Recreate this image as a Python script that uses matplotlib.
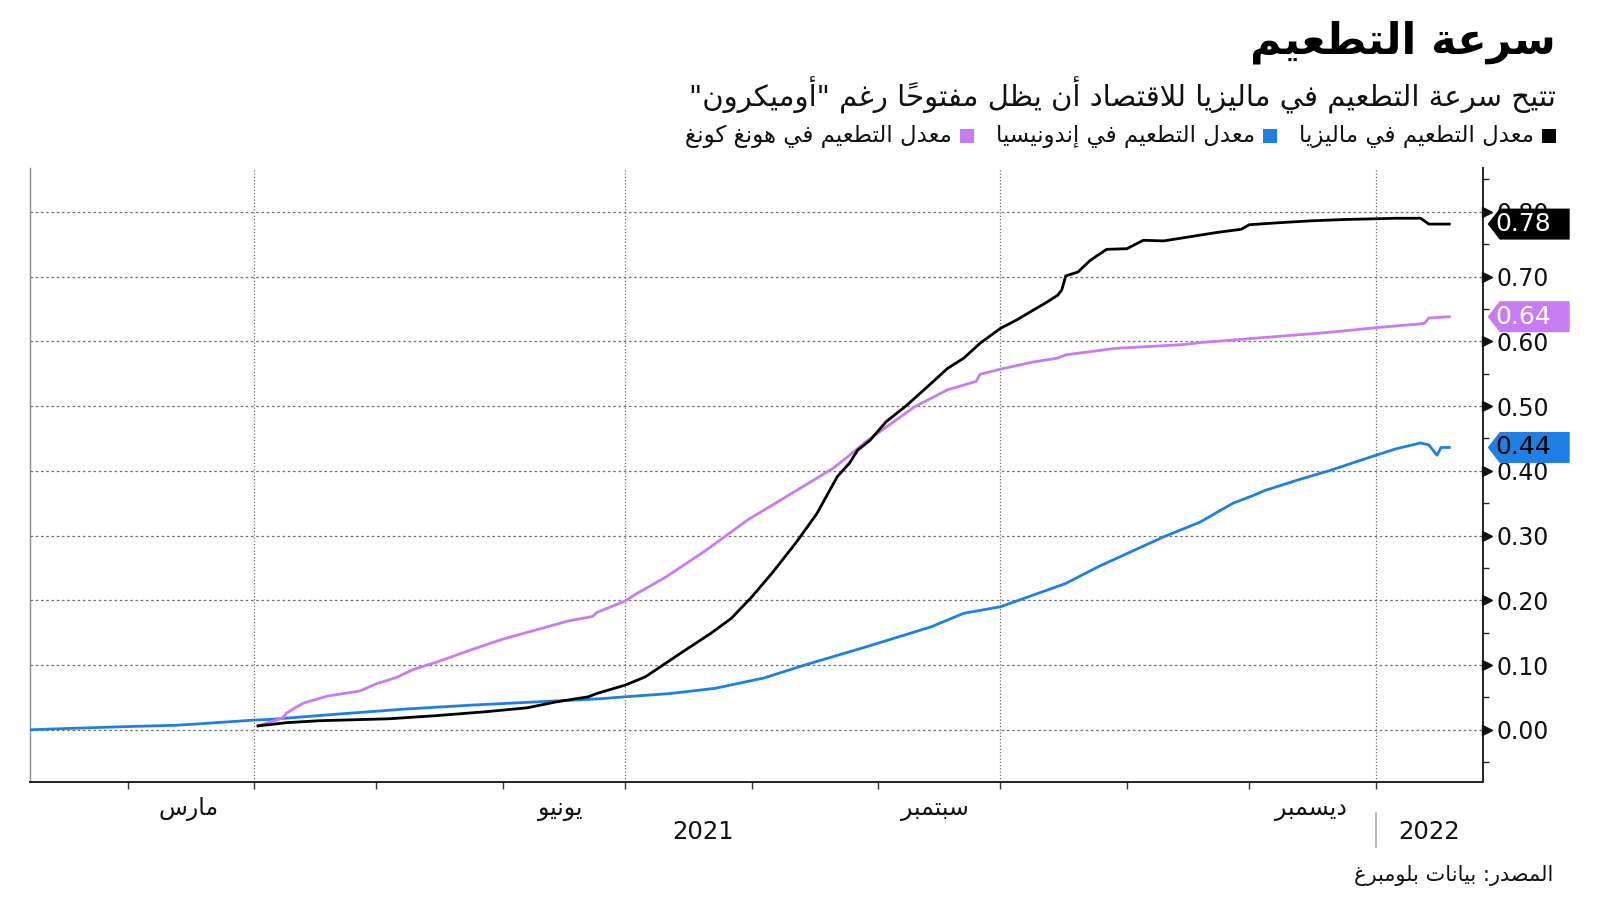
import matplotlib
matplotlib.use("Agg")
import matplotlib.pyplot as plt
import matplotlib.dates as mdates
import matplotlib.transforms as mtransforms
from matplotlib.patches import Polygon, Rectangle
import numpy as np
import pandas as pd

# ---------------------------------------------------------------- data
mal_dates = ["2021-04-02", "2021-04-09", "2021-04-17", "2021-05-04", "2021-05-16", "2021-05-28",
             "2021-06-07", "2021-06-14", "2021-06-22", "2021-06-24", "2021-07-01", "2021-07-06",
             "2021-07-15", "2021-07-22", "2021-07-27", "2021-08-01", "2021-08-06", "2021-08-12",
             "2021-08-17", "2021-08-22", "2021-08-25", "2021-08-27", "2021-08-30", "2021-09-03",
             "2021-09-08", "2021-09-14", "2021-09-18", "2021-09-22", "2021-09-26", "2021-10-01",
             "2021-10-05", "2021-10-09", "2021-10-12", "2021-10-15", "2021-10-16", "2021-10-17",
             "2021-10-20", "2021-10-23", "2021-10-27", "2021-11-01", "2021-11-05", "2021-11-10",
             "2021-11-15", "2021-11-23", "2021-11-29", "2021-12-01", "2021-12-08", "2021-12-16",
             "2021-12-24", "2022-01-06", "2022-01-12", "2022-01-14", "2022-01-19"]
mal_vals = [0.006, 0.011, 0.014, 0.017, 0.022, 0.028,
            0.034, 0.043, 0.051, 0.056, 0.069, 0.082,
            0.120, 0.149, 0.172, 0.205, 0.242, 0.290,
            0.334, 0.391, 0.412, 0.432, 0.447, 0.476,
            0.501, 0.535, 0.558, 0.574, 0.597, 0.620,
            0.633, 0.648, 0.659, 0.671, 0.679, 0.701,
            0.707, 0.725, 0.742, 0.743, 0.756, 0.755,
            0.760, 0.768, 0.773, 0.780, 0.783, 0.786,
            0.788, 0.790, 0.790, 0.781, 0.781]

hk_dates = ["2021-04-02", "2021-04-08", "2021-04-09", "2021-04-13", "2021-04-19", "2021-04-27",
            "2021-05-01", "2021-05-06", "2021-05-10", "2021-05-16", "2021-05-24", "2021-06-01",
            "2021-06-09", "2021-06-17", "2021-06-23", "2021-06-24", "2021-07-01", "2021-07-04",
            "2021-07-11", "2021-07-21", "2021-07-31", "2021-08-10", "2021-08-21", "2021-08-25",
            "2021-08-29", "2021-09-02", "2021-09-06", "2021-09-10", "2021-09-14", "2021-09-18",
            "2021-09-25", "2021-09-26", "2021-10-01", "2021-10-09", "2021-10-15", "2021-10-17",
            "2021-10-29", "2021-11-15", "2021-11-19", "2021-12-01", "2021-12-05", "2021-12-21",
            "2022-01-01", "2022-01-12", "2022-01-13", "2022-01-14", "2022-01-19"]
hk_vals = [0.006, 0.018, 0.026, 0.041, 0.052, 0.060,
           0.071, 0.081, 0.093, 0.105, 0.123, 0.140,
           0.154, 0.168, 0.175, 0.181, 0.199, 0.211,
           0.236, 0.278, 0.324, 0.362, 0.404, 0.424,
           0.445, 0.463, 0.481, 0.499, 0.512, 0.525,
           0.538, 0.549, 0.557, 0.568, 0.574, 0.579,
           0.589, 0.595, 0.598, 0.604, 0.606, 0.614,
           0.621, 0.627, 0.628, 0.636, 0.638]

ind_dates = ["2021-02-05", "2021-02-14", "2021-03-01", "2021-03-13", "2021-03-18", "2021-03-25",
             "2021-04-01", "2021-04-05", "2021-04-21", "2021-05-08", "2021-05-24", "2021-06-09",
             "2021-06-25", "2021-07-01", "2021-07-12", "2021-07-23", "2021-08-04", "2021-08-14",
             "2021-08-29", "2021-09-14", "2021-09-22", "2021-10-01", "2021-10-09", "2021-10-17",
             "2021-10-25", "2021-11-02", "2021-11-10", "2021-11-19", "2021-11-27", "2021-12-02",
             "2021-12-05", "2021-12-13", "2021-12-21", "2022-01-01", "2022-01-06", "2022-01-12",
             "2022-01-14", "2022-01-16", "2022-01-17", "2022-01-19"]
ind_vals = [0.000, 0.002, 0.005, 0.007, 0.009, 0.012,
            0.015, 0.016, 0.024, 0.032, 0.038, 0.043,
            0.048, 0.051, 0.056, 0.064, 0.080, 0.100,
            0.128, 0.159, 0.180, 0.190, 0.208, 0.226,
            0.252, 0.275, 0.298, 0.321, 0.350, 0.362,
            0.370, 0.386, 0.401, 0.424, 0.434, 0.443,
            0.440, 0.424, 0.436, 0.436]

series_names = ["معدل التطعيم في ماليزيا", "معدل التطعيم في إندونيسيا", "معدل التطعيم في هونغ كونغ"]
title_text = "سرعة التطعيم"
subtitle_text = "تتيح سرعة التطعيم في ماليزيا للاقتصاد أن يظل مفتوحاً رغم \"أوميكرون\""
source_text = "المصدر: بيانات بلومبرغ"
month_label_dates = ["2021-03-16", "2021-06-15", "2021-09-15", "2021-12-16"]
month_labels = ["مارس", "يونيو", "سبتمبر", "ديسمبر"]
month_tick_dates = ["2021-03-01", "2021-04-01", "2021-05-01", "2021-06-01", "2021-07-01",
                    "2021-08-01", "2021-09-01", "2021-10-01", "2021-11-01", "2021-12-01",
                    "2022-01-01"]
quarter_dates = ["2021-04-01", "2021-07-01", "2021-10-01", "2022-01-01"]
year_labels = ["2021", "2022"]
y_ticks = [0.0, 0.1, 0.2, 0.3, 0.4, 0.5, 0.6, 0.7, 0.8]
y_minor = [-0.05, 0.05, 0.15, 0.25, 0.35, 0.45, 0.55, 0.65, 0.75, 0.85]

# ---------------------------------------------------------------- arabic shaping
_FORMS = {}
for code, base in [(0x0622, 0xFE81), (0x0623, 0xFE83), (0x0624, 0xFE85), (0x0625, 0xFE87),
                   (0x0627, 0xFE8D), (0x0629, 0xFE93), (0x062F, 0xFEA9), (0x0630, 0xFEAB),
                   (0x0631, 0xFEAD), (0x0632, 0xFEAF), (0x0648, 0xFEED), (0x0649, 0xFEEF)]:
    _FORMS[chr(code)] = (chr(base), chr(base + 1), None, None)
for code, base in [(0x0626, 0xFE89), (0x0628, 0xFE8F), (0x062A, 0xFE95), (0x062B, 0xFE99),
                   (0x062C, 0xFE9D), (0x062D, 0xFEA1), (0x062E, 0xFEA5), (0x0633, 0xFEB1),
                   (0x0634, 0xFEB5), (0x0635, 0xFEB9), (0x0636, 0xFEBD), (0x0637, 0xFEC1),
                   (0x0638, 0xFEC5), (0x0639, 0xFEC9), (0x063A, 0xFECD), (0x0641, 0xFED1),
                   (0x0642, 0xFED5), (0x0643, 0xFED9), (0x0644, 0xFEDD), (0x0645, 0xFEE1),
                   (0x0646, 0xFEE5), (0x0647, 0xFEE9), (0x064A, 0xFEF1)]:
    _FORMS[chr(code)] = (chr(base), chr(base + 1), chr(base + 2), chr(base + 3))
_FORMS["\u0621"] = ("\uFE80", None, None, None)
_LAMALEF = {"\u0622": 0xFEF5, "\u0623": 0xFEF7, "\u0625": 0xFEF9, "\u0627": 0xFEFB}


def _is_mark(c):
    return "\u064B" <= c <= "\u0652"


def ar(text):
    ch = list(text)
    n = len(ch)

    def prev_letter(i):
        j = i - 1
        while j >= 0 and _is_mark(ch[j]):
            j -= 1
        return ch[j] if j >= 0 else None

    def next_letter(i):
        j = i + 1
        while j < n and _is_mark(ch[j]):
            j += 1
        return (ch[j], j) if j < n else (None, None)

    out = []
    i = 0
    while i < n:
        c = ch[i]
        if c not in _FORMS:
            out.append(c)
            i += 1
            continue
        p = prev_letter(i)
        jp = (p in _FORMS and _FORMS[p][2] is not None and _FORMS[c][1] is not None)
        nc, nj = next_letter(i)
        if c == "\u0644" and nc in _LAMALEF:
            out.append(chr(_LAMALEF[nc] + (1 if jp else 0)))
            i = nj + 1
            continue
        jn = (nc in _FORMS and _FORMS[c][2] is not None and _FORMS[nc][1] is not None)
        iso, fin, ini, med = _FORMS[c]
        out.append(med if (jp and jn) else fin if jp else ini if jn else iso)
        i += 1
    clusters = []
    for g in out:
        if _is_mark(g) and clusters:
            clusters[-1] += g
        else:
            clusters.append(g)
    return "".join(reversed(clusters))


# ---------------------------------------------------------------- figure
W, H = 1600, 901
plt.rcParams["font.family"] = ["DejaVu Sans"]
fig = plt.figure(figsize=(W / 100, H / 100), dpi=100)
fig.patch.set_facecolor("white")

ax_l, ax_r, ax_t, ax_b = 29.6, 1482.7, 168.4, 781.6
ax = fig.add_axes([ax_l / W, 1 - ax_b / H, (ax_r - ax_l) / W, (ax_b - ax_t) / H])

C_MAL = "#000000"
C_IND = "#1f80e3"
C_HK = "#c87cf3"

ax.plot(pd.to_datetime(ind_dates), ind_vals, color=C_IND, lw=2.0, zorder=3)
ax.plot(pd.to_datetime(hk_dates), hk_vals, color=C_HK, lw=2.0, zorder=3)
ax.plot(pd.to_datetime(mal_dates), mal_vals, color=C_MAL, lw=2.0, zorder=4)

x0 = pd.Timestamp("2021-02-05")
x1 = pd.Timestamp("2022-01-27 05:00")
ax.set_xlim(x0, x1)
ax.set_ylim(-0.080, 0.867)

ax.spines["top"].set_visible(False)
ax.spines["left"].set_color("#8c8c8c")
ax.spines["left"].set_linewidth(1.0)
ax.spines["bottom"].set_color("#222222")
ax.spines["bottom"].set_linewidth(1.4)
ax.spines["right"].set_color("#222222")
ax.spines["right"].set_linewidth(1.4)

# y axis on the right
ax.yaxis.tick_right()
ax.set_yticks(y_ticks)
ax.set_yticklabels([f"{v:.2f}" for v in y_ticks])
ax.set_yticks(y_minor, minor=True)
ax.tick_params(axis="y", which="major", length=0, pad=10, labelsize=17, labelcolor="#111111")
ax.tick_params(axis="y", which="minor", length=4, width=1, direction="out", color="#222222")
ax.grid(axis="y", which="major", color="#6e6e6e", linestyle=(0, (2, 2.2)), linewidth=0.9)

tri_tr = mtransforms.blended_transform_factory(ax.transAxes, ax.transData) + \
    mtransforms.ScaledTranslation(4 / 100, 0, fig.dpi_scale_trans)
ax.plot([1.0] * len(y_ticks), y_ticks, ls="none", marker=">", ms=6.5, color="#111111",
        transform=tri_tr, clip_on=False, zorder=6)

# x axis
ax.set_xticks(pd.to_datetime(month_tick_dates))
ax.set_xticklabels([""] * len(month_tick_dates))
ax.set_xticks(pd.to_datetime(month_label_dates), minor=True)
ax.set_xticklabels([ar(m) for m in month_labels], minor=True)
ax.tick_params(axis="x", which="major", length=5, width=1, direction="out", color="#333333")
ax.tick_params(axis="x", which="minor", length=0, pad=11, labelsize=17, labelcolor="#111111")
for q in pd.to_datetime(quarter_dates):
    ax.axvline(q, color="#6e6e6e", linestyle=(0, (1, 1.6)), linewidth=0.9, zorder=1)

xb = mtransforms.blended_transform_factory(ax.transData, ax.transAxes)
jan1 = mdates.date2num(pd.Timestamp("2022-01-01"))
n0, n1 = mdates.date2num(x0), mdates.date2num(x1)
ax.text((n0 + jan1) / 2, -0.082, year_labels[0], transform=xb, ha="center", va="center",
        fontsize=17.5, color="#111111")
ax.text((jan1 + n1) / 2, -0.082, year_labels[1], transform=xb, ha="center", va="center",
        fontsize=17.5, color="#111111")
ax.plot([jan1, jan1], [-0.051, -0.107], transform=xb, color="#aaaaaa", lw=1.2, clip_on=False)

# ---------------------------------------------------------------- titles
right_px = 1556
fig.text(right_px / W, 1 - 42 / H, ar(title_text), ha="right", va="center",
         fontsize=31, fontweight="bold", color="#000000")
fig.text(right_px / W, 1 - 95 / H, ar(subtitle_text), ha="right", va="center",
         fontsize=21, color="#111111")
fig.text(1553 / W, 1 - 875 / H, ar(source_text), ha="right", va="center",
         fontsize=15, color="#111111")

# legend (right to left)
renderer = fig.canvas.get_renderer()
ident = mtransforms.IdentityTransform()
leg_y = H - 136
xr = right_px
for name, col in zip(series_names, [C_MAL, C_IND, C_HK]):
    sq = 14
    fig.add_artist(Rectangle((xr - sq, leg_y - sq / 2), sq, sq, transform=ident,
                             facecolor=col, edgecolor="none"))
    t = fig.text((xr - sq - 8) / W, leg_y / H, ar(name), ha="right", va="center",
                 fontsize=16.5, color="#111111")
    bb = t.get_window_extent(renderer)
    xr = bb.x0 - 22

# value tags
xa = ax.transAxes.transform((1, 0))[0]
for val, col, tcol in [(mal_vals[-1], C_MAL, "white"), (hk_vals[-1], C_HK, "white"),
                       (ind_vals[-1], C_IND, "black")]:
    ya = ax.transData.transform((mdates.date2num(x1), val))[1]
    pts = [(xa + 5, ya), (xa + 17, ya + 15.5), (xa + 87, ya + 15.5),
           (xa + 87, ya - 15.5), (xa + 17, ya - 15.5)]
    fig.add_artist(Polygon(pts, closed=True, transform=ident, facecolor=col,
                           edgecolor="none", zorder=5))
    fig.text((xa + 13) / W, ya / H, f"{val:.2f}", ha="left", va="center",
             fontsize=18, color=tcol, zorder=6)

fig.savefig("out.png", dpi=100, facecolor="white")
